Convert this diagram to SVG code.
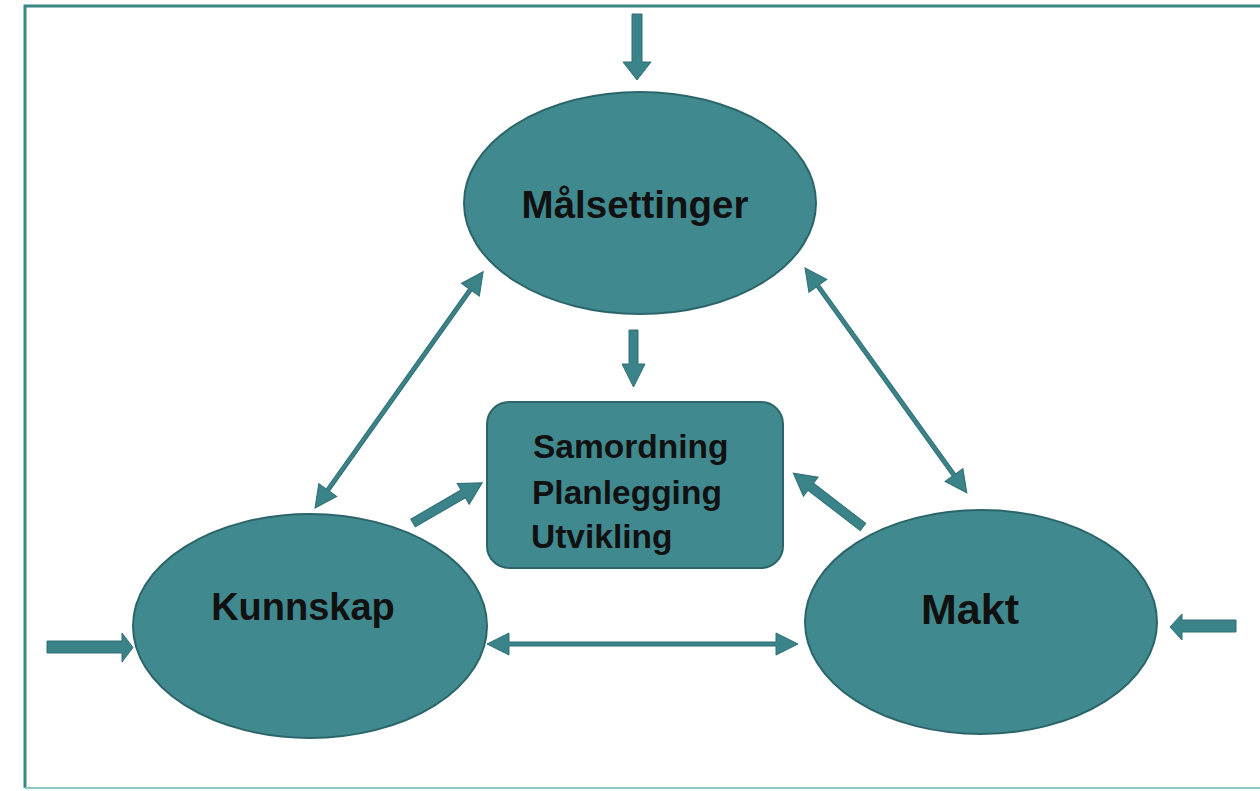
<svg xmlns="http://www.w3.org/2000/svg" width="1260" height="791" viewBox="0 0 1260 791">
<style>
.node{fill:#408a8f;stroke:#2b6569;stroke-width:2}
.arr{fill:#3a8389;stroke:#2f6e73;stroke-width:1}
.lbl{font-family:"Liberation Sans",Arial,sans-serif;font-weight:bold;fill:#111}
</style>
<rect width="1260" height="791" fill="#ffffff"/>
<path d="M25,788 L25,6 L1265,6" fill="none" stroke="#3a8585" stroke-width="3"/>
<line x1="25" y1="788" x2="1265" y2="788" stroke="#8fc6c8" stroke-width="2"/>
<g id="connectors">
  <polygon class="arr" points="632,14 642,14 642,62 651,62 637,80 623,62 632,62"/>
  <polygon class="arr" points="629,330 638,330 638,364 645,364 633.5,387 622,364 629,364"/>
  <polygon class="arr" points="47,641 122,641 122,633 133,647.5 122,662 122,653 47,653"/>
  <polygon class="arr" points="1236,620 1182,620 1182,614 1170,627 1182,640 1182,632 1236,632"/>
  <g transform="translate(413,523) rotate(-30.1)"><polygon class="arr" points="0,-4.5 58,-4.5 58,-12 80,0 58,12 58,4.5 0,4.5"/></g>
  <g transform="translate(863,527) rotate(217.65)"><polygon class="arr" points="0,-4.5 66,-4.5 66,-12 88,0 66,12 66,4.5 0,4.5"/></g>
  <g transform="translate(315,508) rotate(-54.56)"><polygon class="arr" points="0,0 22,-11 22,-2 268,-2 268,-11 290,0 268,11 268,2 22,2 22,11"/></g>
  <g transform="translate(805,268) rotate(54.25)"><polygon class="arr" points="0,0 22,-11 22,-2 255,-2 255,-11 277,0 255,11 255,2 22,2 22,11"/></g>
  <g transform="translate(487,644)"><polygon class="arr" points="0,0 22,-11 22,-2 289,-2 289,-11 311,0 289,11 289,2 22,2 22,11"/></g>
</g>
<g id="malsettinger">
  <ellipse class="node" cx="640" cy="203" rx="176" ry="111"/>
  <text class="lbl" x="635" y="218" font-size="38.5" text-anchor="middle">Målsettinger</text>
</g>
<g id="kunnskap">
  <ellipse class="node" cx="310" cy="626" rx="177" ry="112"/>
  <text class="lbl" x="303" y="620" font-size="38" text-anchor="middle">Kunnskap</text>
</g>
<g id="makt">
  <ellipse class="node" cx="981" cy="622" rx="176" ry="112"/>
  <text class="lbl" x="970" y="624" font-size="43" text-anchor="middle">Makt</text>
</g>
<g id="samordning">
  <rect class="node" x="487" y="402" width="296" height="166" rx="22"/>
  <text class="lbl" x="533" y="458" font-size="33.5">Samordning</text>
  <text class="lbl" x="532" y="504" font-size="33.5">Planlegging</text>
  <text class="lbl" x="531" y="548" font-size="33.5">Utvikling</text>
</g>
</svg>
